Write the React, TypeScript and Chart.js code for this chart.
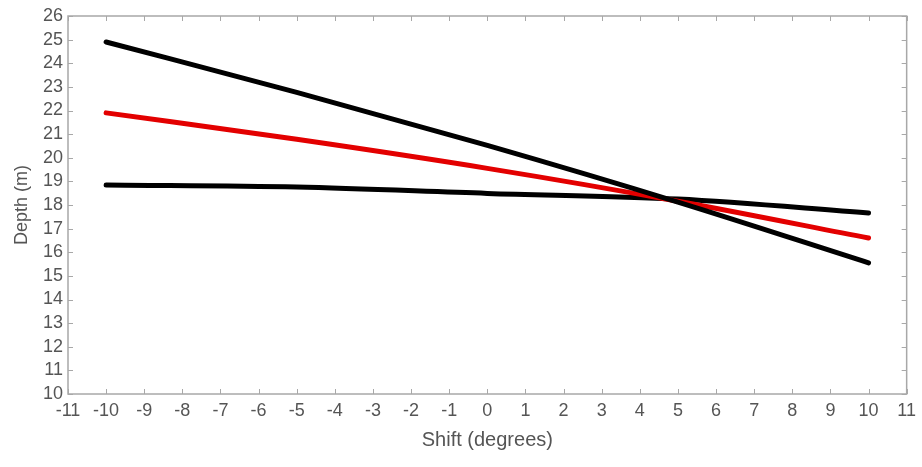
import React, { useEffect, useRef } from "react";
import { Chart, registerables } from "chart.js";

Chart.register(...registerables);

const shiftValues = [-10, -5, 0, 5, 10];
const steepDepth = [24.9, 22.77, 20.52, 18.12, 15.55];
const redDepth = [21.9, 20.78, 19.55, 18.16, 16.6];
const shallowDepth = [18.85, 18.76, 18.49, 18.25, 17.66];
const xTicks = [-11, -10, -9, -8, -7, -6, -5, -4, -3, -2, -1, 0, 1, 2, 3, 4, 5, 6, 7, 8, 9, 10, 11];
const yTicks = [10, 11, 12, 13, 14, 15, 16, 17, 18, 19, 20, 21, 22, 23, 24, 25, 26];

const AXIS_COLOR = "#a8a8a8";
const TEXT_COLOR = "#555555";
const FONT = "'Liberation Sans', Arial, sans-serif";

const boxPlugin = {
  id: "boxTicks",
  afterDraw(chart: any) {
    const { ctx, chartArea, scales } = chart;
    const { left, right, top, bottom } = chartArea;
    ctx.save();
    ctx.strokeStyle = AXIS_COLOR;
    ctx.lineWidth = 1.5;
    ctx.strokeRect(left, top, right - left, bottom - top);
    ctx.lineWidth = 1;
    const tl = 5;
    ctx.beginPath();
    for (const v of xTicks) {
      const px = Math.round(scales.x.getPixelForValue(v)) + 0.5;
      ctx.moveTo(px, bottom);
      ctx.lineTo(px, bottom - tl);
      ctx.moveTo(px, top);
      ctx.lineTo(px, top + tl);
    }
    for (const v of yTicks) {
      const py = Math.round(scales.y.getPixelForValue(v)) + 0.5;
      ctx.moveTo(left, py);
      ctx.lineTo(left + tl, py);
      ctx.moveTo(right, py);
      ctx.lineTo(right - tl, py);
    }
    ctx.stroke();
    ctx.restore();
  },
};

export default function App() {
  const ref = useRef<HTMLCanvasElement | null>(null);
  useEffect(() => {
    if (!ref.current) return;
    const mk = (d: number[], color: string) => ({
      data: shiftValues.map((x, i) => ({ x, y: d[i] })),
      borderColor: color,
      backgroundColor: color,
      borderWidth: 5,
      pointRadius: 0,
      borderCapStyle: "round" as const,
      borderJoinStyle: "round" as const,
      cubicInterpolationMode: "monotone" as const,
      fill: false,
    });
    const chart = new Chart(ref.current, {
      type: "line",
      data: {
        datasets: [mk(steepDepth, "#000000"), mk(redDepth, "#e30000"), mk(shallowDepth, "#000000")],
      },
      options: {
        animation: false,
        responsive: false,
        maintainAspectRatio: false,
        layout: { padding: { left: 0, top: 16, right: 15, bottom: 0 } },
        plugins: { legend: { display: false }, tooltip: { enabled: false } },
        scales: {
          x: {
            type: "linear",
            min: -11,
            max: 11,
            afterBuildTicks: (s: any) => {
              s.ticks = xTicks.map((v) => ({ value: v }));
            },
            afterFit: (s: any) => {
              s.height = 73;
            },
            grid: { display: false, drawTicks: false },
            border: { display: false },
            ticks: { color: TEXT_COLOR, font: { family: FONT, size: 18 }, padding: 6, maxRotation: 0, autoSkip: false },
            title: {
              display: true,
              text: "Shift (degrees)",
              color: TEXT_COLOR,
              font: { family: FONT, size: 20 },
              padding: { top: 0, bottom: 15 },
            },
          },
          y: {
            type: "linear",
            min: 10,
            max: 26,
            afterBuildTicks: (s: any) => {
              s.ticks = yTicks.map((v) => ({ value: v }));
            },
            afterFit: (s: any) => {
              s.width = 68;
            },
            grid: { display: false, drawTicks: false },
            border: { display: false },
            ticks: { color: TEXT_COLOR, font: { family: FONT, size: 18 }, padding: 5, autoSkip: false },
            title: {
              display: true,
              text: "Depth (m)",
              color: TEXT_COLOR,
              font: { family: FONT, size: 18 },
              padding: { top: 11, bottom: 0 },
            },
          },
        },
      },
      plugins: [boxPlugin],
    });
    return () => chart.destroy();
  }, []);
  return (
    <div style={{ position: "fixed", left: 0, top: 0, width: 922, height: 467, background: "#fff" }}>
      <canvas ref={ref} width={922} height={467} style={{ width: 922, height: 467 }} />
    </div>
  );
}
